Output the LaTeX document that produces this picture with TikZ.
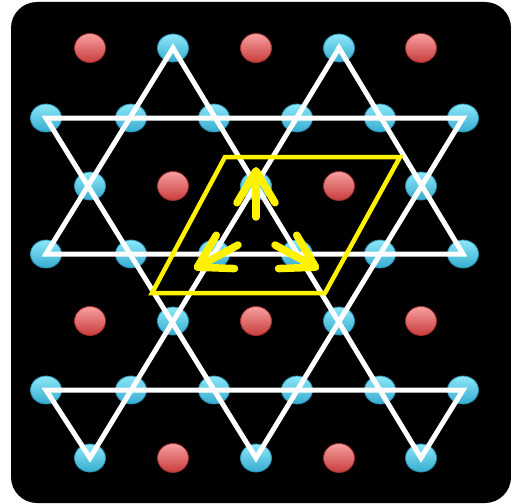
\documentclass[tikz,border=0pt]{standalone}
\usepackage{tikz}
\usetikzlibrary{shapes.geometric, arrows.meta}
\definecolor{cyantop}{RGB}{140,232,248}
\definecolor{cyanbot}{RGB}{55,172,208}
\definecolor{cyanedge}{RGB}{40,140,175}
\definecolor{redtop}{RGB}{248,160,160}
\definecolor{redbot}{RGB}{200,60,60}
\definecolor{rededge}{RGB}{160,45,45}
\tikzset{
  cyansite/.style={
    ellipse, draw=cyanedge, line width=0.8pt, top color=cyantop,
    bottom color=cyanbot, minimum width=31pt, minimum height=28pt,
    inner sep=0pt
  },
  redsite/.style={
    ellipse, draw=rededge, line width=0.8pt, top color=redtop,
    bottom color=redbot, minimum width=31pt, minimum height=29pt,
    inner sep=0pt
  },
  bondline/.style={
    draw=white, line width=5pt, line join=miter
  },
  cellline/.style={
    draw=yellow, line width=4.5pt, line join=miter
  },
  spinarrow/.style={
    -{Straight Barb[length=32pt, width=38pt, round]}, draw=yellow,
    line width=7.5pt, line cap=round
  },
}

\begin{document}
\begin{tikzpicture}[x=1pt, y=-1pt]
  \fill[white] (0,0) rectangle (511,503);
  \useasboundingbox (0,0) rectangle (511,503);
  % panel
  \fill[black, rounded corners=26pt] (11,2) rectangle (511,503);

  % row a
  \node[redsite]  (a2)  at (90,48)  {};
  \node[cyansite] (a4)  at (173,48) {};
  \node[redsite]  (a6)  at (256,48) {};
  \node[cyansite] (a8)  at (339,48) {};
  \node[redsite]  (a10) at (421,48) {};
  % row b
  \node[cyansite] (b1)  at (46,118)  {};
  \node[cyansite] (b3)  at (131,118) {};
  \node[cyansite] (b5)  at (214,118) {};
  \node[cyansite] (b7)  at (297,118) {};
  \node[cyansite] (b9)  at (380,118) {};
  \node[cyansite] (b11) at (463,118) {};
  % row c
  \node[cyansite] (c2)  at (90,186)  {};
  \node[redsite]  (c4)  at (173,186) {};
  \node[cyansite] (c6)  at (256,186) {};
  \node[redsite]  (c8)  at (339,186) {};
  \node[cyansite] (c10) at (421,186) {};
  % row d
  \node[cyansite] (d1)  at (46,254)  {};
  \node[cyansite] (d3)  at (131,254) {};
  \node[cyansite] (d5)  at (214,254) {};
  \node[cyansite] (d7)  at (297,254) {};
  \node[cyansite] (d9)  at (380,254) {};
  \node[cyansite] (d11) at (463,254) {};
  % row e
  \node[redsite]  (e2)  at (90,321)  {};
  \node[cyansite] (e4)  at (173,321) {};
  \node[redsite]  (e6)  at (256,321) {};
  \node[cyansite] (e8)  at (339,321) {};
  \node[redsite]  (e10) at (421,321) {};
  % row f
  \node[cyansite] (f1)  at (46,390)  {};
  \node[cyansite] (f3)  at (131,390) {};
  \node[cyansite] (f5)  at (214,390) {};
  \node[cyansite] (f7)  at (297,390) {};
  \node[cyansite] (f9)  at (380,390) {};
  \node[cyansite] (f11) at (463,390) {};
  % row g
  \node[cyansite] (g2)  at (90,458)  {};
  \node[redsite]  (g4)  at (173,458) {};
  \node[cyansite] (g6)  at (256,458) {};
  \node[redsite]  (g8)  at (339,458) {};
  \node[cyansite] (g10) at (421,458) {};

  % kagome bonds
  \draw[bondline] (b1.center) -- (b11.center) -- (g6.center) -- cycle;
  \draw[bondline] (d1.center) -- (a4.center) -- (g10.center) -- (f11.center)
    -- (f1.center) -- (g2.center) -- (a8.center) -- (d11.center) -- cycle;

  % unit cell
  \draw[cellline] (152,293) -- (325,293) -- (400,157) -- (225,157) -- cycle;

  % spins
  \draw[spinarrow] (256,217) -- (256,167);
  \draw[spinarrow] (238,245) -- (194,269);
  \draw[spinarrow] (275,245) -- (319,269);
\end{tikzpicture}
\end{document}
